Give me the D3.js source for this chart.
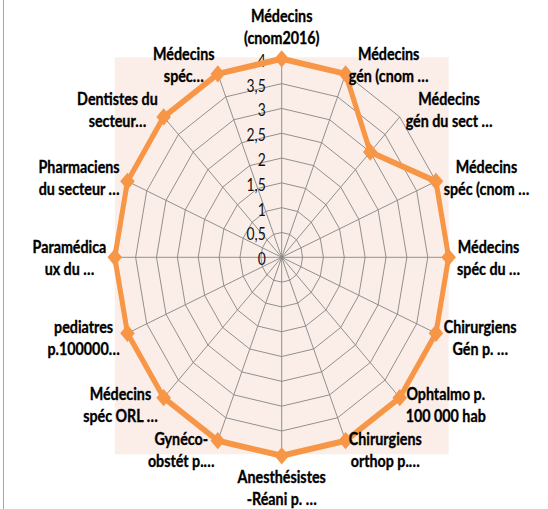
<!DOCTYPE html>
<html>
<head>
<meta charset="utf-8">
<script src="https://cdn.jsdelivr.net/npm/d3@7"></script>
<style>
  body { margin: 0; background: #fff; }
  svg { display: block; }
  .cat { font-family: Lato, "Open Sans", sans-serif; font-weight: bold; font-size: 17px; fill: #000; stroke: #000; stroke-width: 0.35px; }
  .tick { font-family: Lato, "Open Sans", sans-serif; font-size: 16.5px; fill: #111; }
</style>
</head>
<body>
<div id="chart"></div>
<script>
// categories (label lines split on \n)
var categories = [
  "Médecins\n(cnom2016)",
  "Médecins\ngén (cnom …",
  "Médecins\ngén du  sect …",
  "Médecins\nspéc (cnom …",
  "Médecins\nspéc du …",
  "Chirurgiens\nGén p. …",
  "Ophtalmo p.\n100 000 hab",
  "Chirurgiens\northop p.…",
  "Anesthésistes\n-Réani p. …",
  "Gynéco-\nobstét p.…",
  "Médecins\nspéc ORL …",
  "pediatres\np.100000…",
  "Paramédica\nux du …",
  "Pharmaciens\ndu secteur …",
  "Dentistes du\nsecteur…",
  "Médecins\nspéc…"
];
var values = [4, 4, 3, 4, 4, 4, 4, 4, 4, 4, 4, 4, 4, 4, 4, 4];
var tickValues = [0, 0.5, 1, 1.5, 2, 2.5, 3, 3.5, 4];

var width = 548, height = 509;
var cx = 281.7, cy = 257.3;
var R = 198.5;
var squeeze = 0.841; // picture is narrower than it is tall

var fmt = d3.formatLocale({decimal: ",", thousands: " ", grouping: [3], currency: ["", ""]}).format("~g");

var svg = d3.select("#chart")
    .append("svg")
    .attr("width", width)
    .attr("height", height);

svg.append("line")
    .attr("x1", 3.5).attr("x2", 3.5)
    .attr("y1", 0).attr("y2", height)
    .attr("stroke", "#a6a6a6")
    .attr("stroke-width", 1);

var g = svg.append("g")
    .attr("transform", "translate(" + cx + "," + cy + ") scale(" + squeeze + ",1)");

var n = categories.length;
var angle = d3.scaleLinear().domain([0, n]).range([0, 2 * Math.PI]);
var r = d3.scaleLinear().domain([0, 4]).range([0, R]);

// plot area
g.append("rect")
    .attr("x", -r(4)).attr("y", -r(4) - 1.5)
    .attr("width", 2 * r(4)).attr("height", 2 * r(4))
    .attr("fill", "#fbeee9");

// rings
var ring = d3.lineRadial()
    .angle(function(d, i) { return angle(i); })
    .curve(d3.curveLinearClosed);

g.selectAll(".ring")
    .data(tickValues.slice(1))
    .enter().append("path")
    .attr("class", "ring")
    .attr("d", function(t) { return ring.radius(r(t))(categories); })
    .attr("fill", "none")
    .attr("stroke", "#878787")
    .attr("stroke-width", 1);

// spokes
g.selectAll(".spoke")
    .data(categories)
    .enter().append("line")
    .attr("class", "spoke")
    .attr("x1", 0).attr("y1", 0)
    .attr("x2", function(d, i) { return r(4) * Math.sin(angle(i)); })
    .attr("y2", function(d, i) { return -r(4) * Math.cos(angle(i)); })
    .attr("stroke", "#878787")
    .attr("stroke-width", 1);

// tick labels
g.selectAll(".tick")
    .data(tickValues)
    .enter().append("text")
    .attr("class", "tick")
    .attr("x", -19)
    .attr("y", function(t) { return -r(t) + 1.5; })
    .attr("text-anchor", "end")
    .attr("dominant-baseline", "central")
    .text(function(t) { return fmt(t); });

// data
var line = d3.lineRadial()
    .angle(function(d, i) { return angle(i); })
    .radius(function(d) { return r(d); })
    .curve(d3.curveLinearClosed);

g.append("path")
    .datum(values)
    .attr("d", line)
    .attr("fill", "none")
    .attr("stroke", "#f79646")
    .attr("stroke-width", 6)
    .attr("stroke-linejoin", "round");

var diamond = d3.symbol().type(d3.symbolSquare).size(150);
g.selectAll(".mark")
    .data(values)
    .enter().append("path")
    .attr("class", "mark")
    .attr("d", diamond)
    .attr("transform", function(d, i) {
      var a = angle(i);
      return "translate(" + (r(d) * Math.sin(a)) + "," + (-r(d) * Math.cos(a)) + ") rotate(45)";
    })
    .attr("fill", "#f79646");

// category labels
var gap = 10, lineH = 22;
var labels = g.selectAll(".cat")
    .data(categories)
    .enter().append("text")
    .attr("class", "cat")
    .attr("text-anchor", "middle");

labels.each(function(d, i) {
  var el = d3.select(this);
  var lines = d.split("\n");
  lines.forEach(function(s, k) {
    el.append("tspan")
      .attr("x", 0)
      .attr("y", (k - (lines.length - 1) / 2) * lineH)
      .attr("dominant-baseline", "central")
      .text(s);
  });
  var a = angle(i);
  var s = Math.sin(a), c = Math.cos(a);
  var hw = this.getBBox().width / 2;
  var hh = lines.length * lineH / 2;
  var x = (r(4) + gap) * s;
  var y = -(r(4) + gap) * c;
  if (Math.abs(s) < 1e-6) {
    y += -Math.sign(c) * hh;
  } else {
    x += Math.sign(s) * hw;
  }
  el.attr("transform", "translate(" + x + "," + y + ")");
});
</script>
</body>
</html>
